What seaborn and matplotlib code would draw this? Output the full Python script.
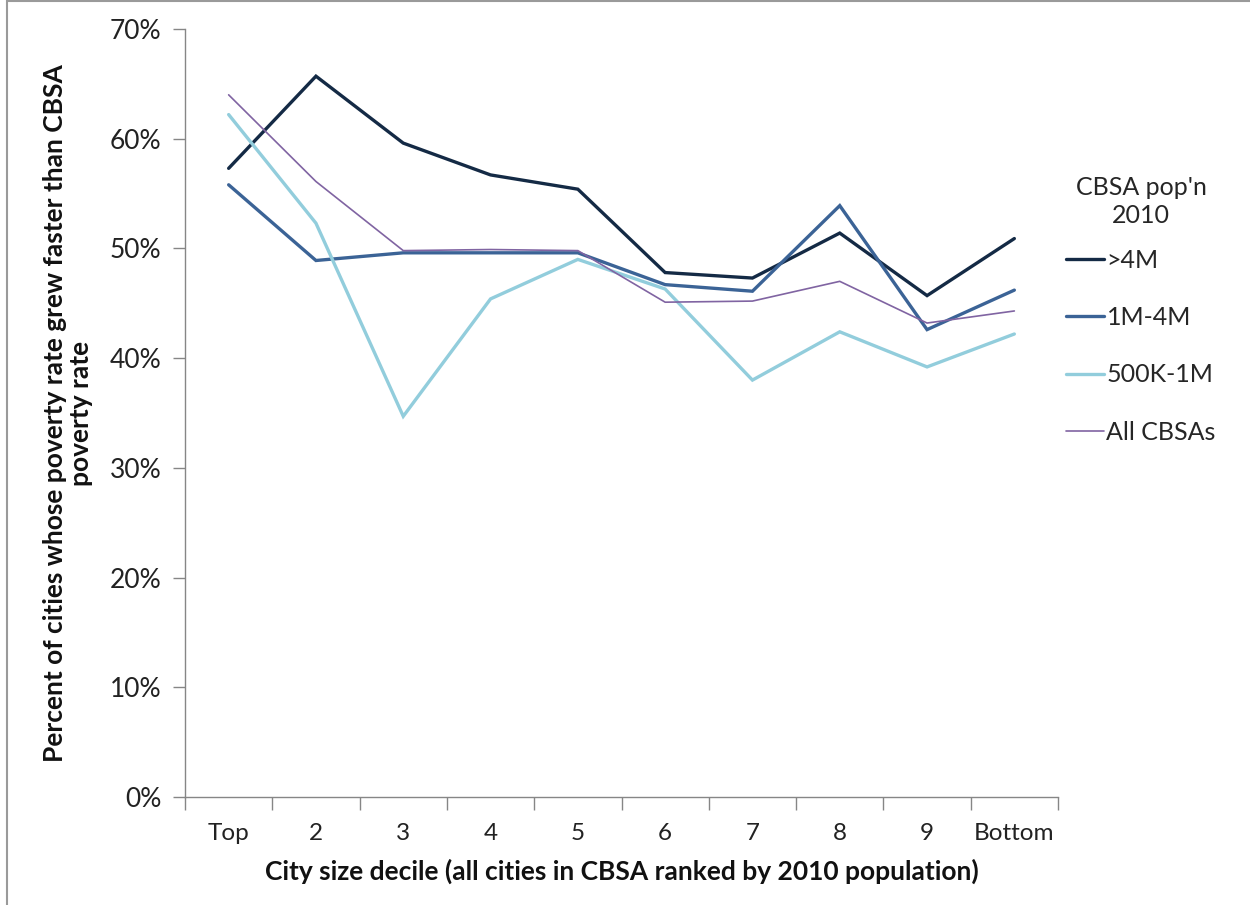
import numpy as np
import pandas as pd
import matplotlib
matplotlib.use("Agg")
import matplotlib.pyplot as plt
from matplotlib.ticker import FixedLocator, PercentFormatter
from matplotlib.patches import Rectangle
import seaborn as sns

# City size deciles (all cities in CBSA ranked by 2010 population)
deciles = ["Top", "2", "3", "4", "5", "6", "7", "8", "9", "Bottom"]

# Share of cities whose poverty rate grew faster than the CBSA's (%)
over_4m = [57.3, 65.7, 59.6, 56.7, 55.4, 47.8, 47.3, 51.4, 45.7, 50.9]
m1_to_4m = [55.8, 48.9, 49.6, 49.6, 49.6, 46.7, 46.1, 53.9, 42.6, 46.2]
k500_to_1m = [62.2, 52.3, 34.7, 45.4, 49.0, 46.3, 38.0, 42.4, 39.2, 42.2]
all_cbsas = [64.0, 56.1, 49.8, 49.9, 49.8, 45.1, 45.2, 47.0, 43.2, 44.3]

series_names = [">4M", "1M-4M", "500K-1M", "All CBSAs"]
series_values = [over_4m, m1_to_4m, k500_to_1m, all_cbsas]
series_colors = ["#142A45", "#3B6396", "#92CDDC", "#8064A2"]
series_widths = [2.4, 2.4, 2.4, 1.2]

sns.set_theme(style="white")
plt.rcParams["font.family"] = ["Lato", "DejaVu Sans"]

fig = plt.figure(figsize=(12.5, 9.05), dpi=100)
ax = fig.add_axes([185 / 1250, 1 - 797 / 905, (1058 - 185) / 1250, (797 - 29) / 905])

# Chart-area frame
fig.patches.append(Rectangle((7 / 1250, -0.05), 1.2, 1.05 - 1.5 / 905,
                             transform=fig.transFigure, fill=False,
                             edgecolor="#9a9a9a", linewidth=1.5, zorder=0))

positions = np.arange(len(deciles))
frames = []
for name, vals in zip(series_names, series_values):
    frames.append(pd.DataFrame({"pos": positions, "pct": vals, "series": name}))
df = pd.concat(frames, ignore_index=True)

for name, color, lw in zip(series_names, series_colors, series_widths):
    sns.lineplot(data=df[df["series"] == name], x="pos", y="pct", color=color,
                 linewidth=lw, label=name, ax=ax, solid_joinstyle="miter")

ax.set_xlim(-0.5, len(deciles) - 0.5)
ax.set_ylim(0, 70)

# y axis
ax.set_yticks(np.arange(0, 71, 10))
ax.yaxis.set_major_formatter(PercentFormatter(decimals=0))
ax.tick_params(axis="y", which="major", direction="out", length=9, width=1,
               color="#868686", labelsize=19, pad=8, labelcolor="#222222",
               left=True)

# x axis: tick marks between categories, labels centred on categories
ax.xaxis.set_major_locator(FixedLocator(np.arange(-0.5, len(deciles), 1.0)))
ax.xaxis.set_minor_locator(FixedLocator(positions))
ax.set_xticklabels([], minor=False)
ax.set_xticklabels(deciles, minor=True)
ax.tick_params(axis="x", which="major", direction="out", length=9, width=1,
               color="#868686", bottom=True)
ax.tick_params(axis="x", which="minor", length=0, labelsize=17.5, pad=19,
               labelcolor="#222222")

for side in ["top", "right"]:
    ax.spines[side].set_visible(False)
for side in ["left", "bottom"]:
    ax.spines[side].set_color("#868686")
    ax.spines[side].set_linewidth(1)

ax.set_xlabel("City size decile (all cities in CBSA ranked by 2010 population)",
              fontsize=19, fontweight="bold", labelpad=10, color="#111111")
ax.set_ylabel("Percent of cities whose poverty rate grew faster than CBSA\npoverty rate",
              fontsize=19, fontweight="bold", labelpad=12, color="#111111",
              linespacing=1.1)

leg = ax.legend(title="CBSA pop'n\n2010", loc="upper left",
                bbox_to_anchor=(1056 / 1250, 1 - 166 / 905),
                bbox_transform=fig.transFigure, frameon=False,
                fontsize=18, title_fontsize=18, handlelength=1.5,
                handletextpad=0.12, labelspacing=1.37, borderaxespad=0)
leg._legend_box.align = "center"
leg._legend_box.sep = 16
leg.get_title().set_multialignment("center")
leg.get_title().set_linespacing(1.25)

fig.savefig("out.png", dpi=100)
